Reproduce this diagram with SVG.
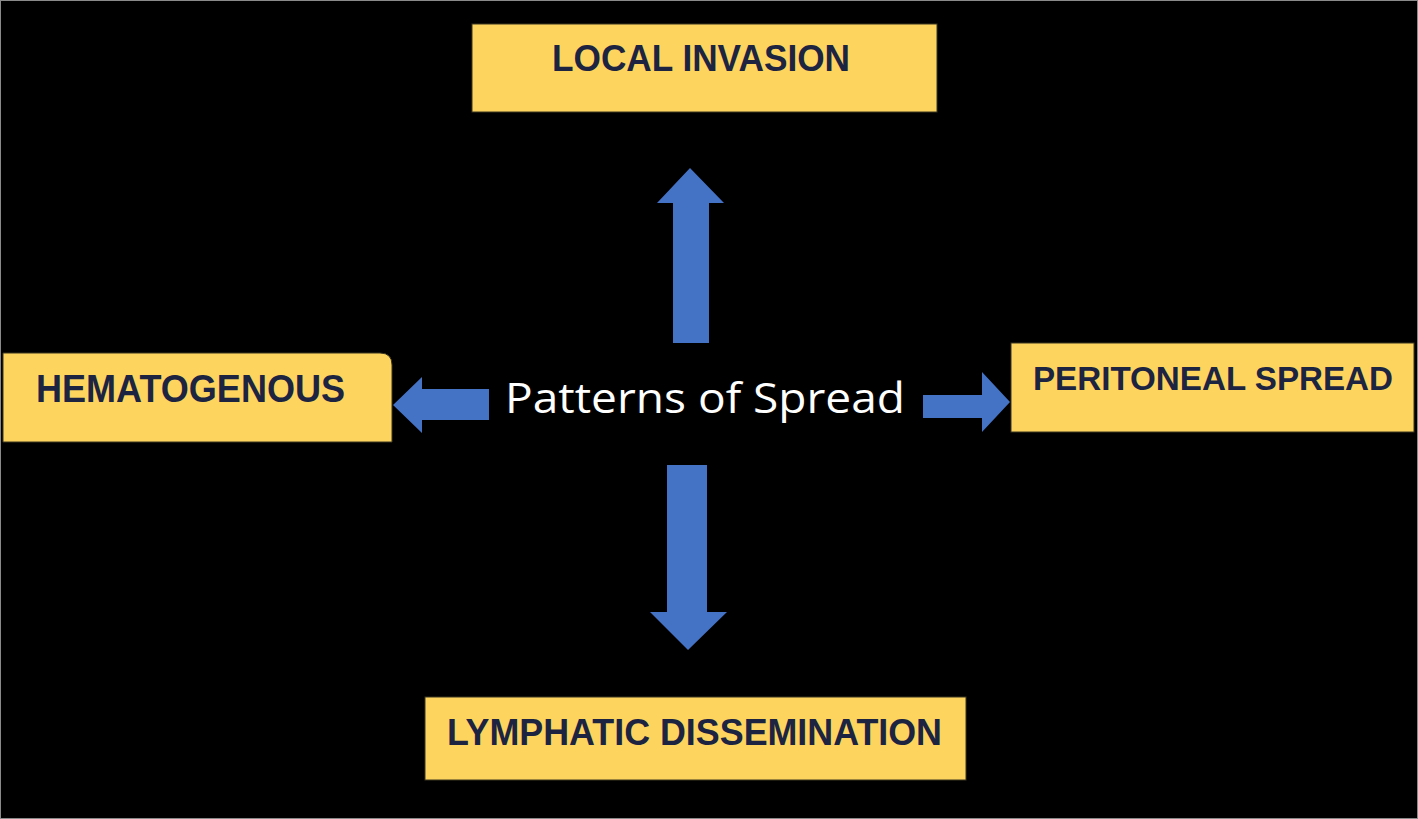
<svg xmlns="http://www.w3.org/2000/svg" width="1418" height="819" viewBox="0 0 1418 819">
<style>
.box{fill:#FDD55E;stroke:#3a3420;stroke-width:1}
.lbl{font-family:"Liberation Sans",Arial,sans-serif;font-weight:bold;fill:#1C2442;text-anchor:start}
.arr{fill:#4472C4}
.ctr{font-family:"Open Sans","Liberation Sans",sans-serif;fill:#FFFFFF;font-size:42px}
</style>
<rect x="0" y="0" width="1418" height="819" fill="#000000"/>
<rect x="0.5" y="0.5" width="1417" height="818" fill="none" stroke="#8a8a8a" stroke-width="1"/>
<g id="connectors">
<polygon class="arr" points="673,343 709,343 709,203 724,203 690,168 657,203 673,203"/>
<polygon class="arr" points="667,465 707,465 707,612 727,612 688,650 650,612 667,612"/>
<polygon class="arr" points="489,389 489,420 422,420 422,433 393,405 422,377 422,389"/>
<polygon class="arr" points="923,395 923,418 982,418 982,432 1010,402 982,372 982,395"/>
</g>
<g id="center">
<text class="ctr" x="505" y="413" textLength="400" lengthAdjust="spacingAndGlyphs">Patterns of Spread</text>
</g>
<g id="local-invasion">
<rect class="box" x="472" y="24" width="465" height="88"/>
<text class="lbl" x="552" y="71" font-size="36" textLength="298" lengthAdjust="spacingAndGlyphs">LOCAL INVASION</text>
</g>
<g id="hematogenous">
<path class="box" d="M3,353 L380,353 Q392,353 392,365 L392,442 L3,442 Z"/>
<text class="lbl" x="36" y="402" font-size="38" textLength="309" lengthAdjust="spacingAndGlyphs">HEMATOGENOUS</text>
</g>
<g id="peritoneal-spread">
<rect class="box" x="1011" y="343" width="403" height="89"/>
<text class="lbl" x="1033" y="390" font-size="34" textLength="360" lengthAdjust="spacingAndGlyphs">PERITONEAL SPREAD</text>
</g>
<g id="lymphatic-dissemination">
<rect class="box" x="425" y="697" width="541" height="83"/>
<text class="lbl" x="447" y="745" font-size="37" textLength="495" lengthAdjust="spacingAndGlyphs">LYMPHATIC DISSEMINATION</text>
</g>
</svg>
